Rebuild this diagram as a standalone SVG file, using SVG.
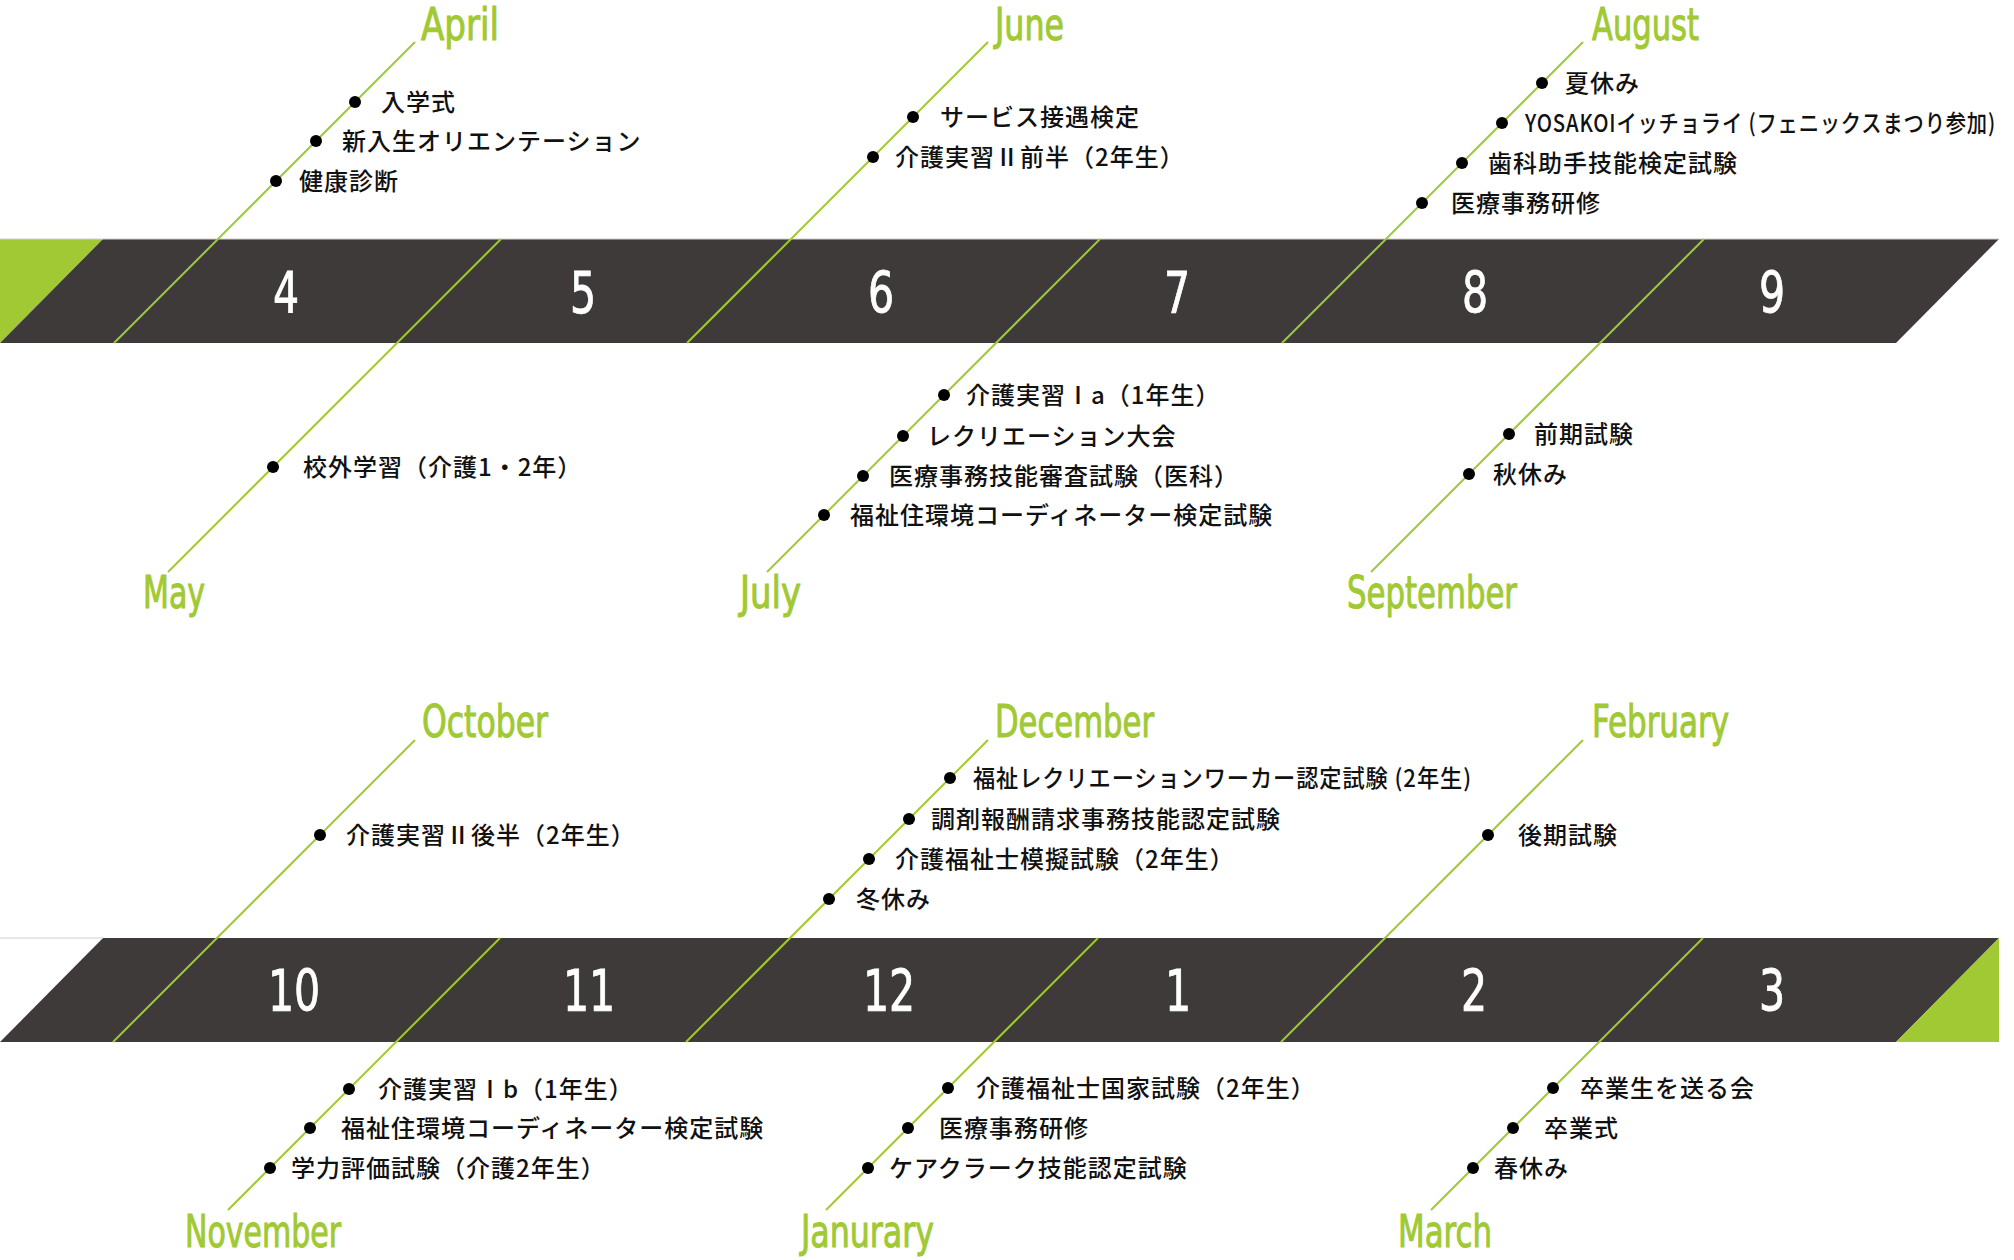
<svg xmlns="http://www.w3.org/2000/svg" width="2014" height="1260" viewBox="0 0 2014 1260">
<style>
.band{fill:#3e3a39}
.acc{fill:#a0c933}
.edge{stroke:#cfcfcf;stroke-width:1}
.ln{stroke:#a0c933;stroke-width:2;fill:none}
.mon{font-family:"Liberation Sans Narrow","DejaVu Sans Condensed","Liberation Sans",sans-serif;font-size:44px;fill:#a0c933;stroke:#a0c933;stroke-width:1}
.num{font-family:"Liberation Sans Narrow","DejaVu Sans Condensed","Liberation Sans",sans-serif;font-size:57px;fill:#ffffff;stroke:#ffffff;stroke-width:0.8;text-anchor:middle}
.ev{font-family:"Noto Sans CJK JP","Noto Sans",sans-serif;font-size:24px;font-weight:500;fill:#111;letter-spacing:1px}
.dot{fill:#000}
</style>
<rect width="2014" height="1260" fill="#ffffff"/>
<g id="bands">
  <polygon class="acc" points="0,239 103,239 0,343"/>
  <polygon class="band" points="103,239 1999,239 1896,343 0,343"/>
  <line class="edge" x1="0" y1="239" x2="1999" y2="239"/>
  <polygon class="band" points="103,938 1999,938 1896,1042 0,1042"/>
  <polygon class="acc" points="1999,938 1999,1042 1896,1042"/>
  <line class="edge" x1="0" y1="938" x2="103" y2="938"/>
  <text class="num" transform="translate(286,313) scale(0.8,1)">4</text>
  <text class="num" transform="translate(583,313) scale(0.8,1)">5</text>
  <text class="num" transform="translate(881,313) scale(0.8,1)">6</text>
  <text class="num" transform="translate(1177,313) scale(0.8,1)">7</text>
  <text class="num" transform="translate(1475,313) scale(0.8,1)">8</text>
  <text class="num" transform="translate(1772,313) scale(0.8,1)">9</text>
  <text class="num" transform="translate(294,1011) scale(0.8,1)">10</text>
  <text class="num" transform="translate(589,1011) scale(0.8,1)">11</text>
  <text class="num" transform="translate(889,1011) scale(0.8,1)">12</text>
  <text class="num" transform="translate(1178,1011) scale(0.8,1)">1</text>
  <text class="num" transform="translate(1474,1011) scale(0.8,1)">2</text>
  <text class="num" transform="translate(1772,1011) scale(0.8,1)">3</text>
</g>
<g id="connectors">
  <path class="ln" d="M415,42 L114,343"/>
  <path class="ln" d="M501,239 L168,572"/>
  <path class="ln" d="M988,42 L687,343"/>
  <path class="ln" d="M1100,239 L767,572"/>
  <path class="ln" d="M1583,42 L1282,343"/>
  <path class="ln" d="M1704,239 L1371,572"/>
  <path class="ln" d="M415,740 L113,1042"/>
  <path class="ln" d="M500,938 L228,1210"/>
  <path class="ln" d="M988,740 L686,1042"/>
  <path class="ln" d="M1098,938 L826,1210"/>
  <path class="ln" d="M1583,740 L1281,1042"/>
  <path class="ln" d="M1703,938 L1431,1210"/>
</g>
<g id="april">
  <text class="mon" x="421" y="40" textLength="78" lengthAdjust="spacingAndGlyphs">April</text>
  <circle class="dot" cx="355" cy="102" r="6"/><text class="ev" x="381" y="111">入学式</text>
  <circle class="dot" cx="316" cy="141" r="6"/><text class="ev" x="342" y="150">新入生オリエンテーション</text>
  <circle class="dot" cx="276" cy="181" r="6"/><text class="ev" x="299" y="190">健康診断</text>
</g>
<g id="may">
  <text class="mon" x="143" y="608" textLength="62" lengthAdjust="spacingAndGlyphs">May</text>
  <circle class="dot" cx="273" cy="467" r="6"/><text class="ev" x="303" y="476">校外学習（介護1・2年）</text>
</g>
<g id="june">
  <text class="mon" x="995" y="40" textLength="69" lengthAdjust="spacingAndGlyphs">June</text>
  <circle class="dot" cx="913" cy="117" r="6"/><text class="ev" x="940" y="126">サービス接遇検定</text>
  <circle class="dot" cx="873" cy="157" r="6"/><text class="ev" x="895" y="166">介護実習Ⅱ前半（2年生）</text>
</g>
<g id="july">
  <text class="mon" x="740" y="608" textLength="61" lengthAdjust="spacingAndGlyphs">July</text>
  <circle class="dot" cx="944" cy="395" r="6"/><text class="ev" x="966" y="404">介護実習Ⅰa（1年生）</text>
  <circle class="dot" cx="903" cy="436" r="6"/><text class="ev" x="927" y="445">レクリエーション大会</text>
  <circle class="dot" cx="863" cy="476" r="6"/><text class="ev" x="889" y="485">医療事務技能審査試験（医科）</text>
  <circle class="dot" cx="824" cy="515" r="6"/><text class="ev" x="850" y="524">福祉住環境コーディネーター検定試験</text>
</g>
<g id="august">
  <text class="mon" x="1592" y="40" textLength="107" lengthAdjust="spacingAndGlyphs">August</text>
  <circle class="dot" cx="1542" cy="83" r="6"/><text class="ev" x="1565" y="92">夏休み</text>
  <circle class="dot" cx="1502" cy="123" r="6"/><text class="ev" x="1525" y="132" letter-spacing="0" textLength="471" lengthAdjust="spacingAndGlyphs">YOSAKOIイッチョライ (フェニックスまつり参加)</text>
  <circle class="dot" cx="1462" cy="163" r="6"/><text class="ev" x="1488" y="172">歯科助手技能検定試験</text>
  <circle class="dot" cx="1422" cy="203" r="6"/><text class="ev" x="1451" y="212">医療事務研修</text>
</g>
<g id="september">
  <text class="mon" x="1347" y="608" textLength="170" lengthAdjust="spacingAndGlyphs">September</text>
  <circle class="dot" cx="1509" cy="434" r="6"/><text class="ev" x="1534" y="443">前期試験</text>
  <circle class="dot" cx="1469" cy="474" r="6"/><text class="ev" x="1493" y="483">秋休み</text>
</g>
<g id="october">
  <text class="mon" x="422" y="737" textLength="126" lengthAdjust="spacingAndGlyphs">October</text>
  <circle class="dot" cx="320" cy="835" r="6"/><text class="ev" x="346" y="844">介護実習Ⅱ後半（2年生）</text>
</g>
<g id="november">
  <text class="mon" x="185" y="1247" textLength="156" lengthAdjust="spacingAndGlyphs">November</text>
  <circle class="dot" cx="349" cy="1089" r="6"/><text class="ev" x="378" y="1098">介護実習Ⅰb（1年生）</text>
  <circle class="dot" cx="310" cy="1128" r="6"/><text class="ev" x="341" y="1137">福祉住環境コーディネーター検定試験</text>
  <circle class="dot" cx="270" cy="1168" r="6"/><text class="ev" x="291" y="1177">学力評価試験（介護2年生）</text>
</g>
<g id="december">
  <text class="mon" x="995" y="737" textLength="159" lengthAdjust="spacingAndGlyphs">December</text>
  <circle class="dot" cx="950" cy="778" r="6"/><text class="ev" x="973" y="787" letter-spacing="0" textLength="499" lengthAdjust="spacingAndGlyphs">福祉レクリエーションワーカー認定試験 (2年生)</text>
  <circle class="dot" cx="909" cy="819" r="6"/><text class="ev" x="931" y="828">調剤報酬請求事務技能認定試験</text>
  <circle class="dot" cx="869" cy="859" r="6"/><text class="ev" x="895" y="868">介護福祉士模擬試験（2年生）</text>
  <circle class="dot" cx="829" cy="899" r="6"/><text class="ev" x="856" y="908">冬休み</text>
</g>
<g id="janurary">
  <text class="mon" x="801" y="1247" textLength="133" lengthAdjust="spacingAndGlyphs">Janurary</text>
  <circle class="dot" cx="948" cy="1088" r="6"/><text class="ev" x="976" y="1097">介護福祉士国家試験（2年生）</text>
  <circle class="dot" cx="908" cy="1128" r="6"/><text class="ev" x="939" y="1137">医療事務研修</text>
  <circle class="dot" cx="868" cy="1168" r="6"/><text class="ev" x="889" y="1177">ケアクラーク技能認定試験</text>
</g>
<g id="february">
  <text class="mon" x="1592" y="737" textLength="137" lengthAdjust="spacingAndGlyphs">February</text>
  <circle class="dot" cx="1488" cy="835" r="6"/><text class="ev" x="1518" y="844">後期試験</text>
</g>
<g id="march">
  <text class="mon" x="1398" y="1247" textLength="94" lengthAdjust="spacingAndGlyphs">March</text>
  <circle class="dot" cx="1553" cy="1088" r="6"/><text class="ev" x="1580" y="1097">卒業生を送る会</text>
  <circle class="dot" cx="1513" cy="1128" r="6"/><text class="ev" x="1544" y="1137">卒業式</text>
  <circle class="dot" cx="1473" cy="1168" r="6"/><text class="ev" x="1494" y="1177">春休み</text>
</g>
</svg>
